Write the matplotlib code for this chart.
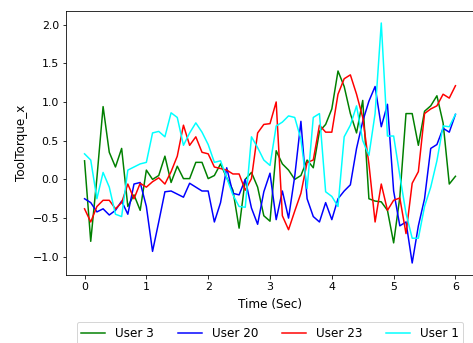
"""Tool torque traces for four users."""

import numpy as np
import matplotlib
matplotlib.use("Agg")
import matplotlib.pyplot as plt

# time axis, 0.1 s samples
time_sec = np.round(np.arange(61) * 0.1, 1)

user3 = [0.24, -0.80, 0.02, 0.94, 0.35, 0.16, 0.40, -0.35, -0.20, -0.40,
         0.12, 0.00, 0.05, 0.30, -0.04, 0.17, 0.01, 0.01, 0.22, 0.22,
         0.01, 0.05, 0.20, 0.02, -0.14, -0.63, 0.00, 0.09, -0.10, -0.47,
         -0.54, 0.37, 0.20, 0.12, 0.00, 0.05, 0.25, 0.15, 0.62, 0.71,
         0.91, 1.40, 1.20, 0.85, 0.60, 1.02, -0.25, -0.28, -0.29, -0.40,
         -0.82, -0.23, 0.85, 0.85, 0.44, 0.88, 0.95, 1.08, 0.73, -0.06,
         0.04]

user20 = [-0.25, -0.30, -0.42, -0.38, -0.46, -0.40, -0.28, -0.45, -0.06, -0.04,
          -0.35, -0.93, -0.55, -0.16, -0.15, -0.19, -0.23, -0.05, -0.10, -0.15,
          -0.15, -0.55, -0.30, 0.15, -0.18, -0.20, 0.00, -0.37, -0.58, -0.16,
          0.08, -0.52, -0.15, -0.50, 0.04, 0.75, -0.25, -0.48, -0.55, -0.30,
          -0.52, -0.25, -0.15, -0.07, 0.40, 0.75, 1.01, 1.20, 0.68, 0.97,
          -0.15, -0.60, -0.55, -1.08, -0.60, -0.25, 0.40, 0.45, 0.66, 0.61,
          0.84]

user23 = [-0.38, -0.55, -0.35, -0.27, -0.27, -0.38, -0.30, -0.06, -0.25, -0.05,
          -0.10, -0.03, 0.02, -0.06, 0.10, 0.30, 0.70, 0.44, 0.55, 0.35,
          0.33, 0.16, 0.14, 0.12, 0.07, 0.07, -0.14, 0.01, 0.60, 0.71,
          0.72, 1.00, -0.47, -0.65, -0.41, -0.18, 0.22, 0.25, 0.70, 0.61,
          0.61, 1.10, 1.30, 1.35, 1.10, 0.80, 0.20, -0.55, -0.06, -0.40,
          -0.27, -0.24, -0.70, -0.05, 0.10, 0.85, 0.91, 0.95, 1.10, 1.05,
          1.21]

user1 = [0.33, 0.25, -0.25, 0.09, -0.10, -0.45, -0.48, 0.12, 0.16, 0.20,
         0.22, 0.60, 0.62, 0.55, 0.86, 0.80, 0.44, 0.60, 0.73, 0.61,
         0.45, 0.22, 0.24, 0.02, -0.20, -0.35, -0.36, 0.55, 0.41, 0.25,
         0.18, 0.69, 0.74, 0.82, 0.80, 0.52, -0.12, 0.80, 0.85, -0.16,
         -0.22, -0.35, 0.55, 0.70, 0.95, 0.50, 0.31, 0.85, 2.02, 0.56,
         0.56, 0.05, -0.44, -0.76, -0.76, -0.35, -0.10, 0.24, 0.69, 0.68,
         0.84]

# 72 dpi like a notebook inline figure
fig = plt.figure(figsize=(473 / 72, 343 / 72), dpi=72)
ax = fig.add_axes([66 / 473, 68 / 343, 408 / 473, 264 / 343])

ax.plot(time_sec, user3, color="green", label="User 3")
ax.plot(time_sec, user20, color="blue", label="User 20")
ax.plot(time_sec, user23, color="red", label="User 23")
ax.plot(time_sec, user1, color="cyan", label="User 1")

ax.tick_params(labelsize=11)
ax.set_xlabel("Time (Sec)", fontsize=12, labelpad=6)
ax.set_ylabel("ToolTorque_x", fontsize=12)
ax.legend(loc="upper center", bbox_to_anchor=(0.5, -0.155), ncol=4, fontsize=12)

fig.savefig("out.png", dpi=72)
